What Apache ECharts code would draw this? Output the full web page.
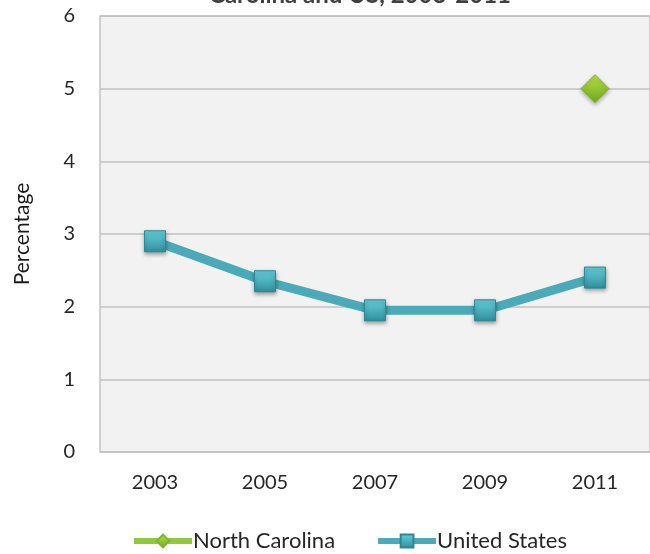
<!DOCTYPE html>
<html>
<head>
<meta charset="utf-8">
<script src="https://cdn.jsdelivr.net/npm/echarts@6/dist/echarts.min.js"></script>
<style>html,body{margin:0;padding:0;background:#fff;}#c{width:650px;height:554px;}</style>
</head>
<body>
<div id="c"></div>
<script>
var years = ['2003', '2005', '2007', '2009', '2011'];
var northCarolina = [null, null, null, null, 5.0];
var unitedStates = [2.9, 2.35, 1.95, 1.95, 2.4];
var yTicks = [0, 1, 2, 3, 4, 5, 6];

var chart = echarts.init(document.getElementById('c'));
var font = 'Lato, "Open Sans", sans-serif';
chart.setOption({
  animation: false,
  backgroundColor: '#ffffff',
  title: {
    text: 'Carolina and US, 2003-2011',
    left: 355, textAlign: 'center', top: -22,
    textStyle: { fontFamily: font, fontSize: 24, fontWeight: 'bold', color: '#404040' }
  },
  grid: {
    left: 100, top: 16, width: 556, height: 436,
    show: true, backgroundColor: '#f2f2f2', borderColor: '#c4c4c4', borderWidth: 1.5
  },
  legend: {
    bottom: -3, left: 126, itemGap: 40, itemWidth: 58, itemHeight: 16,
    textStyle: { fontFamily: font, fontSize: 22, color: '#262626', padding: [0, 0, 0, -4] },
    lineStyle: { width: 6 },
    data: ['North Carolina', 'United States']
  },
  xAxis: {
    type: 'category', data: years, boundaryGap: true,
    axisLine: { show: false }, axisTick: { show: false },
    axisLabel: { fontFamily: font, fontSize: 20, color: '#262626', margin: 21 }
  },
  yAxis: {
    type: 'value', min: 0, max: 6, interval: 1,
    name: 'Percentage', nameLocation: 'middle', nameGap: 67, nameRotate: 90,
    nameTextStyle: { fontFamily: font, fontSize: 21, color: '#1a1a1a' },
    axisLine: { show: false }, axisTick: { show: false },
    axisLabel: { fontFamily: font, fontSize: 20, color: '#262626', margin: 25,
      formatter: function (v) { return yTicks.indexOf(v) >= 0 ? String(v) : ''; } },
    splitLine: { lineStyle: { color: '#c0c0c0', width: 1.5 } }
  },
  series: [
    {
      name: 'North Carolina', type: 'line', data: northCarolina,
      symbol: 'diamond', symbolSize: 28, showAllSymbol: true,
      lineStyle: { color: '#92c83e', width: 8 },
      itemStyle: {
        color: new echarts.graphic.LinearGradient(0, 0, 0, 1, [
          { offset: 0, color: '#b8e04a' }, { offset: 1, color: '#6fa91a' }
        ]),
        borderColor: '#7fb52a', borderWidth: 1,
        shadowColor: 'rgba(0,0,0,0.3)', shadowBlur: 4, shadowOffsetY: 2
      }
    },
    {
      name: 'United States', type: 'line', data: unitedStates,
      symbol: 'rect', symbolSize: 21,
      lineStyle: { color: '#4aaab8', width: 9 },
      itemStyle: {
        color: new echarts.graphic.LinearGradient(0, 0, 0, 1, [
          { offset: 0, color: '#66d0dc' }, { offset: 1, color: '#2f8f9c' }
        ]),
        borderColor: '#2e8794', borderWidth: 1,
        shadowColor: 'rgba(0,0,0,0.35)', shadowBlur: 4, shadowOffsetY: 2
      }
    }
  ]
});
</script>
</body>
</html>
